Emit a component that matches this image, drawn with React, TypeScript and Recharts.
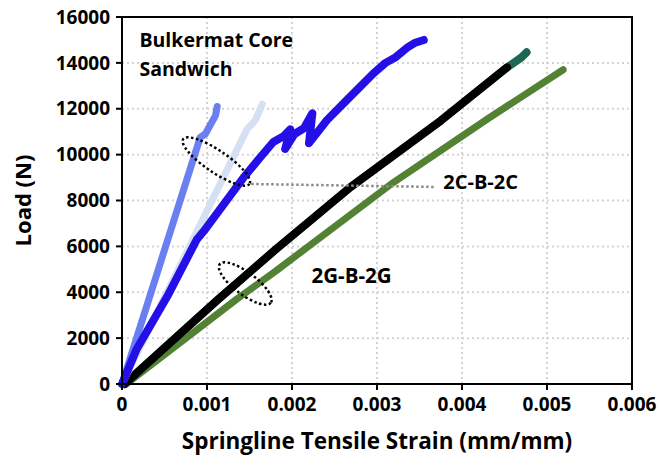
import React from "react";
import {
  LineChart,
  Line,
  XAxis,
  YAxis,
  CartesianGrid,
  ReferenceDot,
  ReferenceLine,
  ReferenceArea,
} from "recharts";

const FONT = "'Open Sans', 'Liberation Sans', sans-serif";

const strainTicks = [0, 0.001, 0.002, 0.003, 0.004, 0.005, 0.006];
const loadTicks = [0, 2000, 4000, 6000, 8000, 10000, 12000, 14000, 16000];

type Pt = { x: number; y: number };
const toPts = (xs: number[], ys: number[]): Pt[] => xs.map((x, i) => ({ x, y: ys[i] }));

// 2C-B-2C specimens (blue shades)
const c1Strain = [0, 0.00092, 0.00098, 0.0011, 0.00112];
const c1Load = [0, 10750, 10900, 11700, 12100];

const c2Strain = [0, 0.00147, 0.00157, 0.00165];
const c2Load = [0, 11100, 11500, 12200];

const c3Strain = [
  0, 0.00017, 0.00053, 0.00088, 0.00098, 0.00143, 0.00163, 0.00178, 0.0019, 0.00198,
  0.00192, 0.00203, 0.00214, 0.00224, 0.0022, 0.00241, 0.00265, 0.0028, 0.00296,
  0.0031, 0.00322, 0.00335, 0.00345, 0.00355,
];
const c3Load = [
  0, 1500, 3800, 6300, 6750, 9000, 9900, 10550, 10800, 11100,
  10250, 10900, 11150, 11800, 10500, 11500, 12400, 12950, 13550,
  14000, 14250, 14650, 14880, 15000,
];

// 2G-B-2G specimens
const g1Strain = [0.00003, 0.00112, 0.0018, 0.00269, 0.00375, 0.00453];
const g1Load = [0, 3650, 5840, 8590, 11480, 13800];

const g1TailStrain = [0.00453, 0.0047, 0.00476];
const g1TailLoad = [13800, 14240, 14460];

const g2Strain = [0.00005, 0.00135, 0.0018, 0.00316, 0.00433, 0.00519];
const g2Load = [0, 3700, 4900, 8700, 11630, 13700];

const seriesC1 = toPts(c1Strain, c1Load);
const seriesC2 = toPts(c2Strain, c2Load);
const seriesC3 = toPts(c3Strain, c3Load);
const seriesG1 = toPts(g1Strain, g1Load);
const seriesG1Tail = toPts([...g1Strain, ...g1TailStrain.slice(1)], [...g1Load, ...g1TailLoad.slice(1)]);
const seriesG2 = toPts(g2Strain, g2Load);

// annotation anchors (data coordinates)
const ellipseC = { x: 0.00111, y: 9700, rx: 40, ry: 11, angle: 34 };
const ellipseG = { x: 0.00145, y: 4380, rx: 32, ry: 11, angle: 37 };
const connector = [
  { x: 0.00152, y: 8720 },
  { x: 0.00368, y: 8590 },
];

const textStyle = { fontFamily: FONT, fontWeight: 700, fill: "#000" };

const EllipseShape = (e: typeof ellipseC) => (props: any) => {
  const { cx, cy } = props;
  return (
    <ellipse
      cx={cx}
      cy={cy}
      rx={e.rx}
      ry={e.ry}
      transform={`rotate(${e.angle} ${cx} ${cy})`}
      fill="none"
      stroke="#000"
      strokeWidth={2.5}
      strokeDasharray="2.5 2.5"
    />
  );
};

const TextShape = (lines: string[], size: number, lineGap: number) => (props: any) => {
  const { cx, cy } = props;
  return (
    <text x={cx} y={cy} fontSize={size} {...textStyle}>
      {lines.map((l, i) => (
        <tspan key={i} x={cx} dy={i === 0 ? 0 : lineGap}>
          {l}
        </tspan>
      ))}
    </text>
  );
};

const fmtStrain = (v: number) => (v === 0 ? "0" : v.toFixed(3));

export default function App() {
  const lineProps = {
    type: "linear" as const,
    dataKey: "y",
    dot: false,
    activeDot: false,
    isAnimationActive: false,
    strokeLinecap: "round" as const,
    strokeLinejoin: "round" as const,
  };
  const tick = { fill: "#000", fontSize: 19, fontWeight: 700, fontFamily: FONT };
  return (
    <div style={{ position: "absolute", left: 0, top: 0, background: "#fff" }}>
      <LineChart width={660} height={465} margin={{ top: 17, right: 28, left: 0, bottom: 0 }}>
        <CartesianGrid stroke="#d4d4d4" strokeDasharray="2 3" strokeWidth={2} />
        <XAxis
          dataKey="x"
          type="number"
          domain={[0, 0.006]}
          ticks={strainTicks}
          tickFormatter={fmtStrain}
          height={81}
          tick={tick}
          tickSize={6}
          tickMargin={8}
          axisLine={{ stroke: "#000", strokeWidth: 2 }}
          tickLine={{ stroke: "#000", strokeWidth: 2 }}
          allowDuplicatedCategory={false}
          label={{
            content: (p: any) => {
              const vb = p.viewBox;
              return (
                <text
                  x={vb.x + vb.width / 2}
                  y={vb.y + 65}
                  textAnchor="middle"
                  fontSize={22.5}
                  {...textStyle}
                >
                  Springline Tensile Strain (mm/mm)
                </text>
              );
            },
          }}
        />
        <YAxis
          type="number"
          domain={[0, 16000]}
          ticks={loadTicks}
          width={122}
          tick={tick}
          tickSize={6}
          tickMargin={6}
          axisLine={{ stroke: "#000", strokeWidth: 2 }}
          tickLine={{ stroke: "#000", strokeWidth: 2 }}
          label={{
            content: (p: any) => {
              const vb = p.viewBox;
              const x = vb.x + 31;
              const y = vb.y + vb.height / 2;
              return (
                <text
                  x={x}
                  y={y}
                  textAnchor="middle"
                  fontSize={22}
                  transform={`rotate(-90 ${x} ${y})`}
                  {...textStyle}
                >
                  Load (N)
                </text>
              );
            },
          }}
        />
        <ReferenceArea
          x1={0}
          x2={0.006}
          y1={0}
          y2={16000}
          fill="none"
          stroke="#000"
          strokeWidth={2}
          ifOverflow="visible"
        />
        <Line {...lineProps} data={seriesG2} stroke="#548235" strokeWidth={7} />
        <Line {...lineProps} data={seriesG1Tail} stroke="#1E6757" strokeWidth={8} />
        <Line {...lineProps} data={seriesG1} stroke="#000000" strokeWidth={8} />
        <Line {...lineProps} data={seriesC2} stroke="#D6E0F4" strokeWidth={7} />
        <Line {...lineProps} data={seriesC1} stroke="#6A80F2" strokeWidth={7} />
        <Line {...lineProps} data={seriesC3} stroke="#2410E6" strokeWidth={8} />
        <ReferenceLine
          segment={connector}
          stroke="#8c8c8c"
          strokeWidth={2.5}
          strokeDasharray="2.5 2.5"
          ifOverflow="visible"
        />
        <ReferenceDot
          x={ellipseC.x}
          y={ellipseC.y}
          r={1}
          ifOverflow="visible"
          shape={EllipseShape(ellipseC)}
        />
        <ReferenceDot
          x={ellipseG.x}
          y={ellipseG.y}
          r={1}
          ifOverflow="visible"
          shape={EllipseShape(ellipseG)}
        />
        <ReferenceDot
          x={0.000205}
          y={14680}
          r={1}
          ifOverflow="visible"
          shape={TextShape(["Bulkermat Core", "Sandwich"], 19.5, 29)}
        />
        <ReferenceDot
          x={0.00378}
          y={8520}
          r={1}
          ifOverflow="visible"
          shape={TextShape(["2C-B-2C"], 20, 0)}
        />
        <ReferenceDot
          x={0.00223}
          y={4390}
          r={1}
          ifOverflow="visible"
          shape={TextShape(["2G-B-2G"], 20.5, 0)}
        />
      </LineChart>
    </div>
  );
}
